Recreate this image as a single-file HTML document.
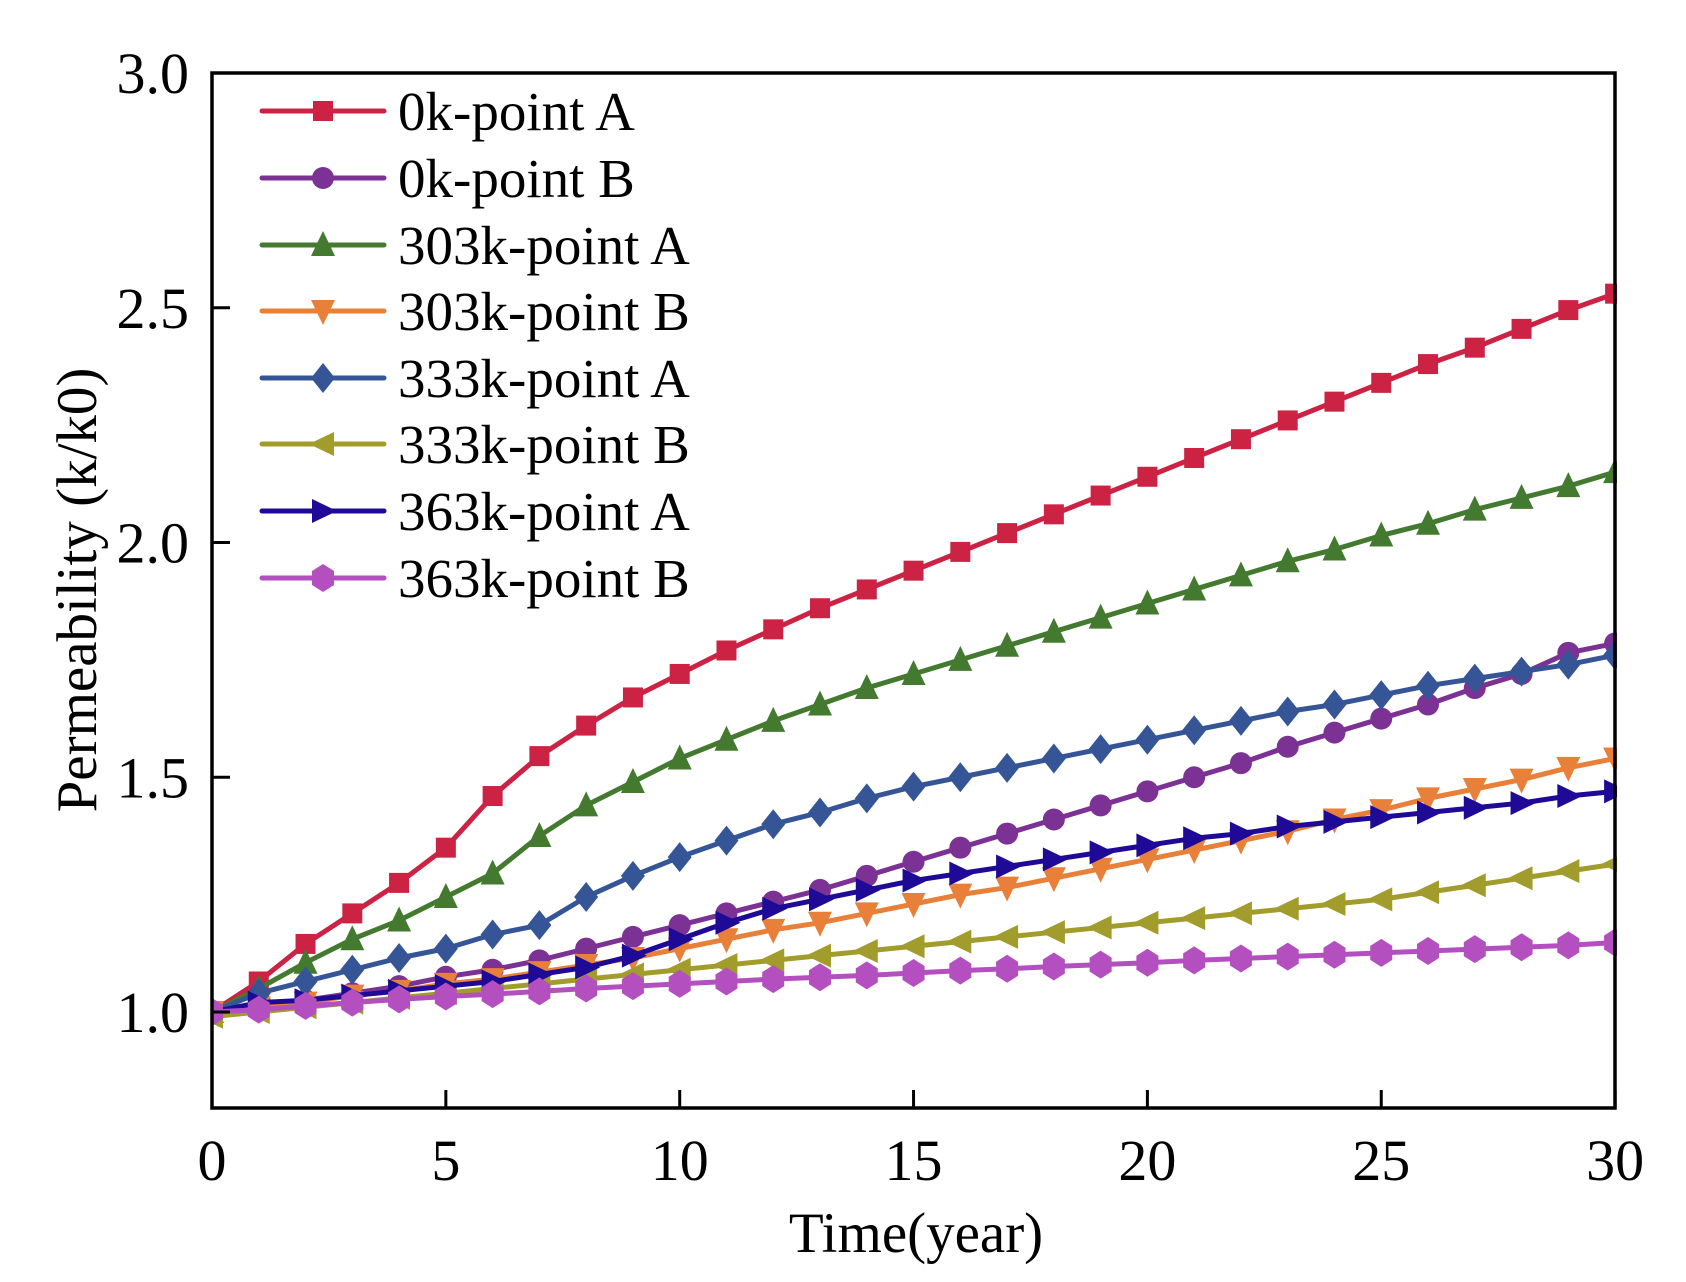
<!DOCTYPE html><html><head><meta charset="utf-8"><style>body{margin:0;background:#fff}svg{display:block}</style></head><body>
<svg id="s" width="1686" height="1282" xmlns="http://www.w3.org/2000/svg" font-family="Liberation Serif, serif"></svg>
<script>
const S=document.getElementById('s');let h='';
const X=v=>212+v*46.77, Y=v=>1012-(v-1)*469.5;
const series=[
["0k-point A","#cc2244","sq",[1.0,1.065,1.145,1.21,1.275,1.35,1.46,1.545,1.61,1.67,1.72,1.77,1.815,1.86,1.9,1.94,1.98,2.02,2.06,2.1,2.14,2.18,2.22,2.26,2.3,2.34,2.38,2.415,2.455,2.495,2.53]],
["0k-point B","#7b3294","ci",[1.0,1.01,1.025,1.04,1.055,1.075,1.09,1.11,1.135,1.16,1.185,1.21,1.235,1.26,1.29,1.32,1.35,1.38,1.41,1.44,1.47,1.5,1.53,1.565,1.595,1.625,1.655,1.69,1.72,1.765,1.785]],
["303k-point A","#437a2f","up",[1.0,1.05,1.105,1.155,1.195,1.245,1.295,1.375,1.44,1.49,1.54,1.58,1.62,1.655,1.69,1.72,1.75,1.78,1.81,1.84,1.87,1.9,1.93,1.96,1.985,2.015,2.04,2.07,2.095,2.12,2.15]],
["303k-point B","#e8803a","dn",[1.0,1.01,1.02,1.035,1.045,1.06,1.07,1.085,1.1,1.115,1.135,1.155,1.175,1.19,1.21,1.23,1.25,1.265,1.285,1.305,1.325,1.345,1.365,1.385,1.41,1.43,1.455,1.475,1.495,1.52,1.54]],
["333k-point A","#355596","di",[1.0,1.04,1.065,1.09,1.115,1.135,1.165,1.185,1.245,1.29,1.33,1.365,1.4,1.425,1.455,1.48,1.5,1.52,1.54,1.56,1.58,1.6,1.62,1.64,1.655,1.675,1.695,1.71,1.725,1.74,1.76]],
["333k-point B","#a19c2c","lt",[0.99,1.0,1.01,1.02,1.03,1.04,1.05,1.06,1.07,1.08,1.09,1.10,1.11,1.12,1.13,1.14,1.15,1.16,1.17,1.18,1.19,1.20,1.21,1.22,1.23,1.24,1.255,1.27,1.285,1.30,1.315]],
["363k-point A","#1e0a96","rt",[1.0,1.02,1.025,1.035,1.045,1.055,1.065,1.08,1.095,1.12,1.155,1.19,1.22,1.24,1.26,1.28,1.295,1.31,1.325,1.34,1.355,1.37,1.38,1.395,1.405,1.415,1.425,1.435,1.445,1.46,1.47]],
["363k-point B","#b34fbf","hx",[1.0,1.005,1.013,1.02,1.027,1.033,1.038,1.044,1.05,1.055,1.06,1.065,1.07,1.074,1.078,1.083,1.088,1.092,1.097,1.101,1.105,1.11,1.114,1.118,1.122,1.126,1.13,1.134,1.138,1.142,1.148]]];
function mk(t,x,y,c){const r=11;
 if(t=="sq")return `<rect x="${x-r+1}" y="${y-r+1}" width="${2*r-2}" height="${2*r-2}" fill="${c}"/>`;
 if(t=="ci")return `<circle cx="${x}" cy="${y}" r="${r}" fill="${c}"/>`;
 if(t=="hx")return `<polygon points="${x},${y-r-3} ${x+r},${y-r+4} ${x+r},${y+r-4} ${x},${y+r+3} ${x-r},${y+r-4} ${x-r},${y-r+4}" fill="${c}"/>`;
 if(t=="up")return `<polygon points="${x},${y-r-3} ${x+r+1},${y+r} ${x-r-1},${y+r}" fill="${c}"/>`;
 if(t=="dn")return `<polygon points="${x},${y+r+3} ${x+r+1},${y-r} ${x-r-1},${y-r}" fill="${c}"/>`;
 if(t=="di")return `<polygon points="${x},${y-r-4} ${x+r+1},${y} ${x},${y+r+4} ${x-r-1},${y}" fill="${c}"/>`;
 if(t=="lt")return `<polygon points="${x-r-3},${y} ${x+r},${y-r-1} ${x+r},${y+r+1}" fill="${c}"/>`;
 if(t=="rt")return `<polygon points="${x+r+3},${y} ${x-r},${y-r-1} ${x-r},${y+r+1}" fill="${c}"/>`;}
h+=`<defs><clipPath id="c"><rect x="212" y="73" width="1405" height="1036"/></clipPath></defs><g clip-path="url(#c)">`;
for(const [n,c,t,d] of series){h+=`<polyline fill="none" stroke="${c}" stroke-width="5" stroke-linejoin="round" points="${d.map((v,i)=>X(i)+','+Y(v)).join(' ')}"/>`;
 d.forEach((v,i)=>h+=mk(t,X(i),Y(v),c));}
h+='</g>';
h+=`<rect x="212" y="73" width="1403" height="1035" fill="none" stroke="#000" stroke-width="3.5"/>`;
for(let i=0;i<=4;i++){const v=1+i*0.5,y=Y(v);h+=`<line x1="212" x2="230" y1="${y}" y2="${y}" stroke="#000" stroke-width="3"/><text x="189" y="${y+20}" font-size="58" text-anchor="end">${v.toFixed(1)}</text>`;}
for(let i=0;i<=6;i++){const x=X(i*5);h+=`<line x1="${x}" x2="${x}" y1="1108" y2="1090" stroke="#000" stroke-width="3"/><text x="${x}" y="1180" font-size="58" text-anchor="middle">${i*5}</text>`;}
h+=`<text x="916" y="1252" font-size="57" text-anchor="middle">Time(year)</text>`;
h+=`<text transform="translate(96,590) rotate(-90)" font-size="57" text-anchor="middle">Permeability (k/k0)</text>`;
const ly=[111,178,245,311,378,444,511,578];
series.forEach(([n,c,t],i)=>{const y=ly[i];h+=`<line x1="262" x2="384" y1="${y}" y2="${y}" stroke="${c}" stroke-width="5" stroke-linecap="round"/>`+mk(t,323,y,c)+`<text x="398" y="${y+19}" font-size="55">${n}</text>`;});
S.innerHTML=h;
</script></body></html>
